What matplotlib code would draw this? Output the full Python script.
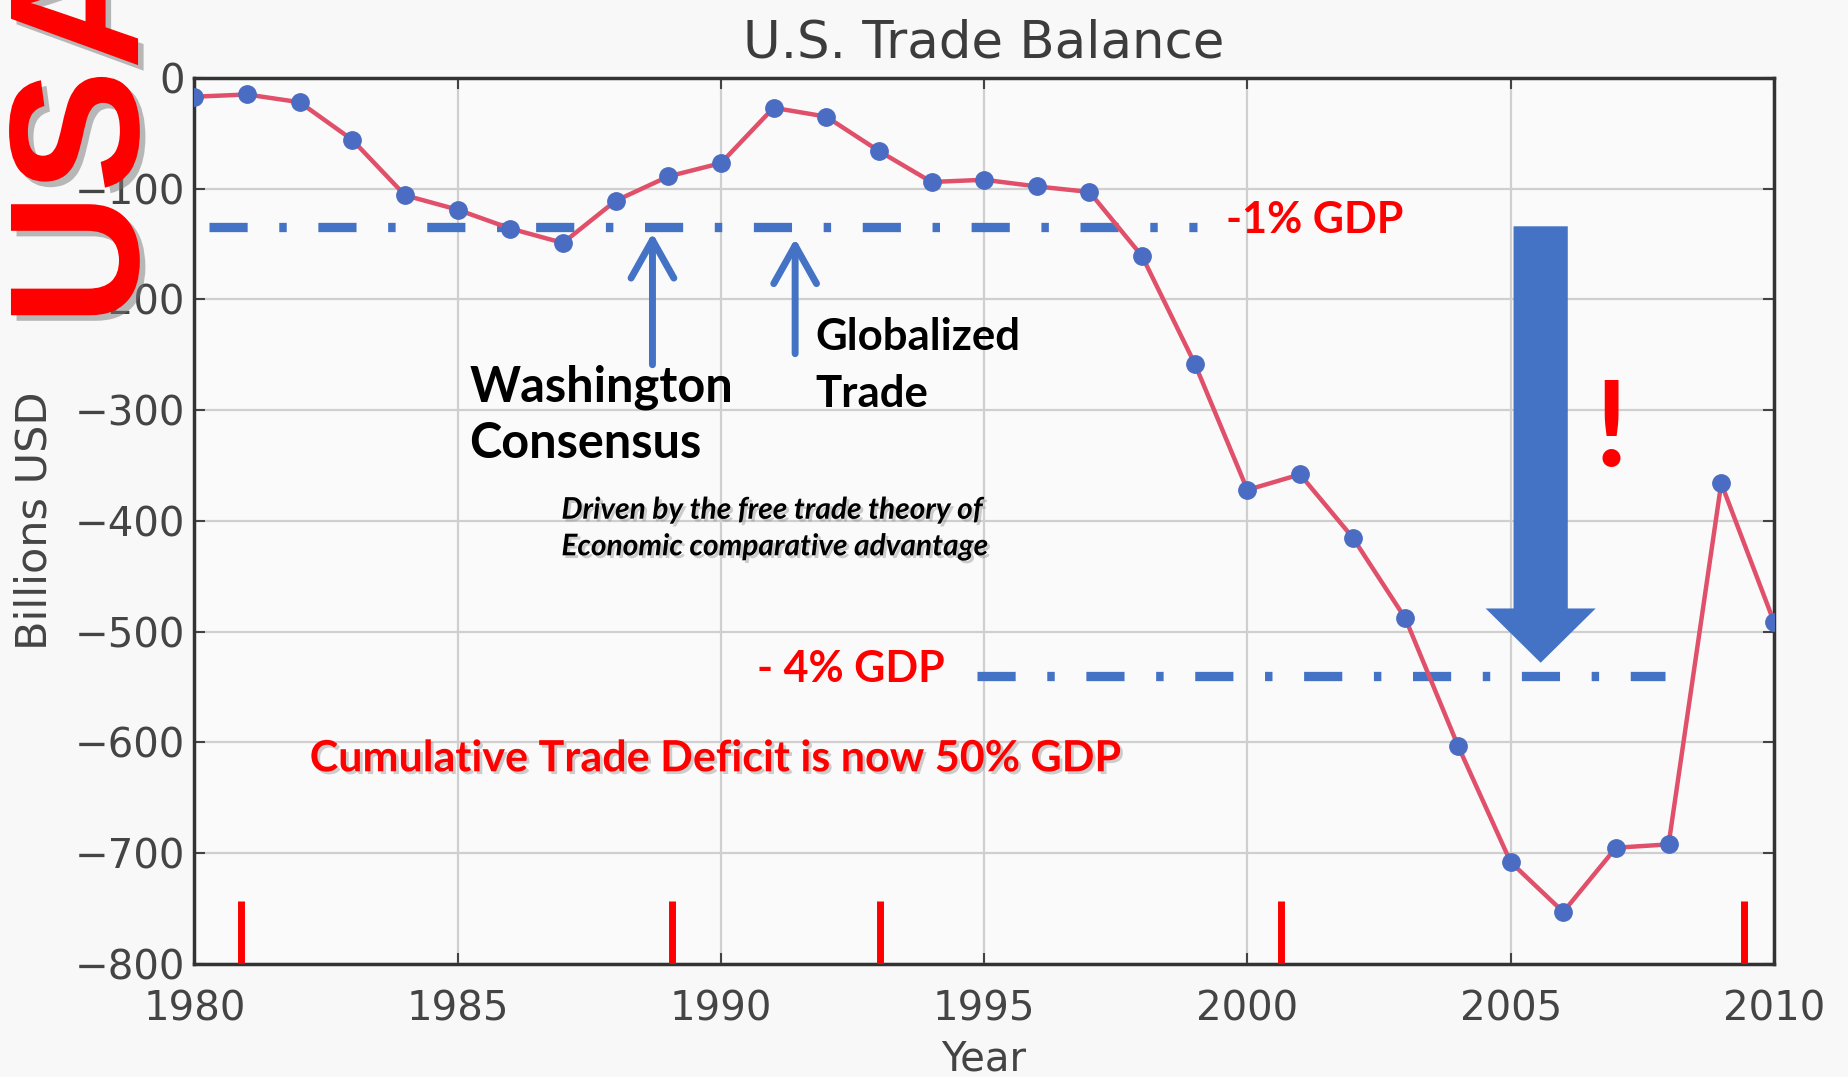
import matplotlib
matplotlib.use('Agg')
import matplotlib.pyplot as plt
import matplotlib.patheffects as pe

# --- data ---
years = list(range(1980, 2011))
balance = [-17, -15, -22, -56, -106, -119, -136, -149, -111, -89,
           -77, -27, -35, -66, -94, -92, -98, -103, -161, -258,
           -372, -358, -415, -488, -603, -708, -753, -695, -692, -366,
           -491]

xticks = [1980, 1985, 1990, 1995, 2000, 2005, 2010]
yticks = [0, -100, -200, -300, -400, -500, -600, -700, -800]

# reference levels (-1% and -4% of GDP) and where the dash-dot lines run
gdp1_level = -135
gdp1_span = (1980.28, 1999.05)
gdp4_level = -540
gdp4_span = (1994.86, 2007.93)

# red marks along the bottom (changes of administration)
president_years = [1980.89, 1989.08, 1993.02, 2000.64, 2009.44]

BLUE = '#4472C4'
RED = '#FF0000'
ANNOT_FONT = ['Lato', 'DejaVu Sans']

fig = plt.figure(figsize=(18.48, 10.77), dpi=100, facecolor='#f8f8f8')
ax = fig.add_axes([0.1052, 0.1049, 0.8547, 0.8228], facecolor='#fafafa')

ax.plot(years, balance, color='#e0506a', lw=3.2, marker='o', ms=12.5,
        mfc='#4a6cc2', mec='#4a6cc2', zorder=3)

ax.set_xlim(1980, 2010)
ax.set_ylim(-800, 0)
ax.set_xticks(xticks)
ax.set_yticks(yticks)
ax.grid(True, color='#cfcfcf', lw=1.6)
ax.set_axisbelow(True)
ax.tick_params(direction='in', length=8, width=1.5, top=True, right=True,
               colors='#444444', labelsize=29)
ax.tick_params(axis='x', pad=18)
ax.tick_params(axis='y', pad=7)
for s in ax.spines.values():
    s.set_color('#333333')
    s.set_linewidth(2.5)

ax.set_title('U.S. Trade Balance', fontsize=37, color='#3c3c3c', pad=15)
ax.set_xlabel('Year', fontsize=29, color='#444444')
ax.set_ylabel('Billions USD', fontsize=31, color='#444444')
ax.xaxis.set_label_coords(0.5, -0.085)
ax.yaxis.set_label_coords(-0.088, 0.5)

# dash-dot GDP lines
dd = (4.1, 3.4, 0.8, 3.4)
ax.plot(gdp1_span, [gdp1_level, gdp1_level], color=BLUE, lw=6.7,
        dashes=dd, dash_capstyle='butt', zorder=2)
ax.plot(gdp4_span, [gdp4_level, gdp4_level], color=BLUE, lw=6.7,
        dashes=dd, dash_capstyle='butt', zorder=2)

# red marks
ax.vlines(president_years, -800, -743, colors=RED, lw=5, zorder=4)

# thin up arrows
arrow_style = '->, head_length=1.37, head_width=0.77'
ax.annotate('', xy=(1988.70, -140), xytext=(1988.70, -259),
            arrowprops=dict(arrowstyle=arrow_style, lw=5, color=BLUE,
                            shrinkA=0, shrinkB=0, mutation_scale=20))
ax.annotate('', xy=(1991.41, -145), xytext=(1991.41, -249),
            arrowprops=dict(arrowstyle=arrow_style, lw=5, color=BLUE,
                            shrinkA=0, shrinkB=0, mutation_scale=20))

# big down arrow
ax.arrow(2005.57, -134, 0, -394, width=1.03, head_width=2.09, head_length=49,
         length_includes_head=True, color=BLUE, lw=0, zorder=4)

shadow = [pe.withSimplePatchShadow(offset=(2, -2), shadow_rgbFace='#888888', alpha=0.4)]

ax.text(1999.60, -140, '-1% GDP', color=RED, fontsize=31, fontweight='bold',
        family=ANNOT_FONT, va='baseline')
ax.text(1990.68, -545, '- 4% GDP', color=RED, fontsize=31, fontweight='bold',
        family=ANNOT_FONT, va='baseline')
ax.text(1985.22, -292, 'Washington', color='black', fontsize=35, fontweight='bold',
        family=ANNOT_FONT, va='baseline')
ax.text(1985.22, -343, 'Consensus', color='black', fontsize=35, fontweight='bold',
        family=ANNOT_FONT, va='baseline')
ax.text(1991.79, -245.7, 'Globalized', color='black', fontsize=31.5, fontweight='bold',
        family=ANNOT_FONT, va='baseline')
ax.text(1991.79, -297, 'Trade', color='black', fontsize=31.5, fontweight='bold',
        family=ANNOT_FONT, va='baseline')
ax.text(1986.97, -398, 'Driven by the free trade theory of', color='black',
        fontsize=21.5, fontweight='bold', style='italic', family=ANNOT_FONT,
        va='baseline', path_effects=shadow)
ax.text(1986.97, -431, 'Economic comparative advantage', color='black',
        fontsize=21.5, fontweight='bold', style='italic', family=ANNOT_FONT,
        va='baseline', path_effects=shadow)
ax.text(1982.19, -626, 'Cumulative Trade Deficit is now 50% GDP', color=RED,
        fontsize=31, fontweight='bold', family=ANNOT_FONT, va='baseline',
        path_effects=shadow)
ax.text(2006.9, -350, '!', color=RED, fontsize=85, fontweight='bold',
        family=ANNOT_FONT, va='baseline', ha='center')

fig.text(0.0747, 0.697, 'USA', color=RED, fontsize=133, fontweight='bold',
         family=['Liberation Sans Narrow', 'Liberation Sans', 'DejaVu Sans'],
         rotation=90, rotation_mode='anchor', ha='left', va='baseline',
         path_effects=[pe.withSimplePatchShadow(offset=(4, -4),
                                                shadow_rgbFace='#777777', alpha=0.5)])

fig.savefig('out.png', dpi=100, facecolor=fig.get_facecolor())
